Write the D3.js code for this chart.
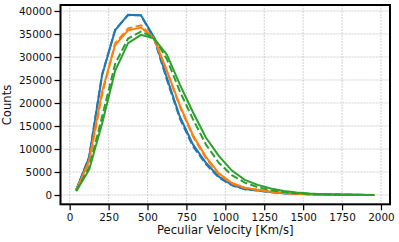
<!DOCTYPE html>
<html>
<head>
<meta charset="utf-8">
<script src="https://cdn.jsdelivr.net/npm/d3@7"></script>
<style>
body { margin: 0; background: #fff; }
svg { display: block; font-family: "DejaVu Sans", sans-serif; }
</style>
</head>
<body>
<script>
// bin centres of the velocity histogram
var velocity = [42, 125, 208, 292, 375, 458, 542, 625, 708, 792, 875, 958,
	1042, 1125, 1208, 1292, 1375, 1458, 1542, 1625, 1708, 1792, 1875, 1958];

var blueSolid = [1100, 8200, 26000, 35800, 39200, 39100, 34300, 25400, 17000, 11000, 7000, 4000,
	2200, 1300, 1000, 650, 400, 250, 150, 90, 55, 35, 20, 12];
var blueDashed = [1100, 8300, 26200, 35900, 39100, 39000, 34000, 25000, 16600, 10600, 6700, 3800,
	2100, 1250, 950, 620, 380, 240, 140, 85, 50, 32, 18, 11];
var orangeSolid = [1000, 7400, 22500, 32600, 35800, 36400, 34000, 27000, 19500, 13000, 8300, 4700,
	2600, 1600, 1150, 720, 450, 280, 170, 100, 60, 38, 22, 13];
var orangeDashed = [1000, 7100, 21800, 33000, 36200, 36900, 34100, 26800, 19200, 12700, 8000, 4500,
	2500, 1500, 1100, 690, 430, 270, 160, 95, 58, 36, 21, 12];
var greenSolid = [800, 5500, 15500, 27000, 33000, 34800, 34000, 30500, 24000, 18000, 12500, 8500,
	5300, 3300, 2200, 1400, 850, 520, 310, 190, 110, 65, 40, 25];
var greenDashed = [900, 6000, 17000, 28500, 34000, 35500, 34200, 29500, 22500, 16500, 11000, 7000,
	4300, 2700, 1700, 1050, 650, 400, 240, 145, 85, 50, 30, 18];

var xTicks = [0, 250, 500, 750, 1000, 1250, 1500, 1750, 2000];
var yTicks = [0, 5000, 10000, 15000, 20000, 25000, 30000, 35000, 40000];

var margin = {top: 5, right: 9, bottom: 37.7, left: 60.5},
	width = 399 - margin.left - margin.right,
	height = 242 - margin.top - margin.bottom;

var x = d3.scaleLinear().domain([-59, 2058]).range([0, width]);
var y = d3.scaleLinear().domain([-2020, 41300]).range([height, 0]);

var svg = d3.select("body").append("svg")
	.attr("width", 399)
	.attr("height", 242)
	.append("g")
	.attr("transform", "translate(" + margin.left + "," + margin.top + ")");

// grid
svg.append("g").selectAll("line")
	.data(xTicks)
	.enter().append("line")
	.attr("x1", function(d) { return x(d); })
	.attr("x2", function(d) { return x(d); })
	.attr("y1", 0).attr("y2", height)
	.attr("stroke", "#b0b0b0").attr("stroke-width", 0.8)
	.attr("stroke-dasharray", "2,1").attr("opacity", 0.7);
svg.append("g").selectAll("line")
	.data(yTicks)
	.enter().append("line")
	.attr("y1", function(d) { return y(d); })
	.attr("y2", function(d) { return y(d); })
	.attr("x1", 0).attr("x2", width)
	.attr("stroke", "#b0b0b0").attr("stroke-width", 0.8)
	.attr("stroke-dasharray", "2,1").attr("opacity", 0.7);

var series = [
	{v: blueSolid, c: "#1f77b4", dash: null},
	{v: blueDashed, c: "#1f77b4", dash: "7.4,3.2"},
	{v: orangeSolid, c: "#ff7f0e", dash: null},
	{v: orangeDashed, c: "#ff7f0e", dash: "7.4,3.2"},
	{v: greenSolid, c: "#2ca02c", dash: null},
	{v: greenDashed, c: "#2ca02c", dash: "7.4,3.2"}
];

var line = d3.line()
	.x(function(d, i) { return x(velocity[i]); })
	.y(function(d) { return y(d); });

svg.selectAll(".series")
	.data(series)
	.enter().append("path")
	.attr("class", "series")
	.attr("d", function(s) { return line(s.v); })
	.attr("fill", "none")
	.attr("stroke", function(s) { return s.c; })
	.attr("stroke-width", 2)
	.attr("stroke-dasharray", function(s) { return s.dash; });

// axes
var xAxis = svg.append("g")
	.attr("transform", "translate(0," + height + ")")
	.call(d3.axisBottom(x).tickValues(xTicks).tickSize(6).tickPadding(3).tickFormat(d3.format("d")));
var yAxis = svg.append("g")
	.call(d3.axisLeft(y).tickValues(yTicks).tickSize(6).tickPadding(2.5).tickFormat(d3.format("d")));

[xAxis, yAxis].forEach(function(a) {
	a.select(".domain").remove();
	a.selectAll(".tick line").attr("stroke", "#000").attr("stroke-width", 1.25);
	a.selectAll(".tick text").attr("font-size", "10.4px").attr("fill", "#111")
		.attr("font-family", "DejaVu Sans");
});

// frame
svg.append("rect")
	.attr("width", width).attr("height", height)
	.attr("fill", "none").attr("stroke", "#000").attr("stroke-width", 2);

svg.append("text")
	.attr("x", width / 2)
	.attr("y", height + 29.5)
	.attr("text-anchor", "middle")
	.attr("font-size", "11.6px")
	.attr("fill", "#111")
	.text("Peculiar Velocity [Km/s]");

svg.append("text")
	.attr("transform", "translate(" + (-50) + "," + (100) + ") rotate(-90)")
	.attr("text-anchor", "middle")
	.attr("font-size", "11.6px")
	.attr("fill", "#111")
	.text("Counts");
</script>
</body>
</html>
